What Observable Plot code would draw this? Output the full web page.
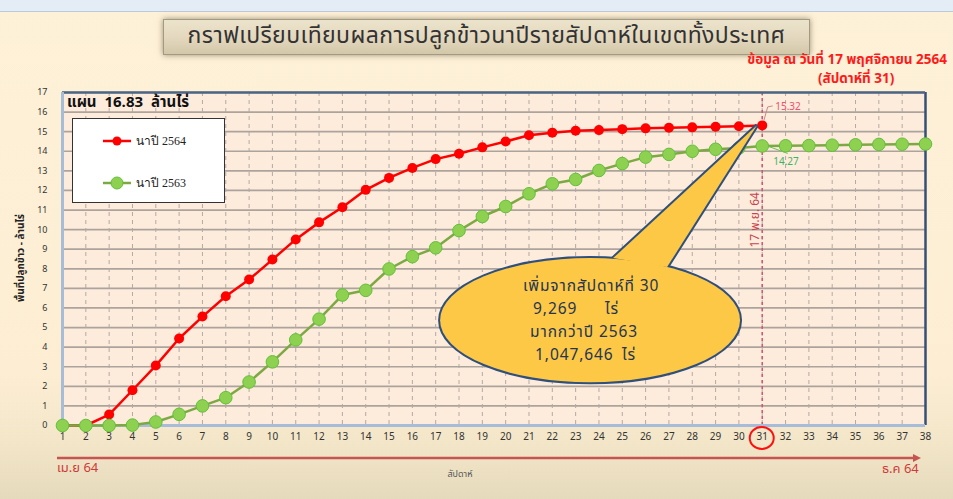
<!DOCTYPE html>
<html><head><meta charset="utf-8">
<script src="https://cdn.jsdelivr.net/npm/d3@7"></script>
<script src="https://cdn.jsdelivr.net/npm/@observablehq/plot@0.6"></script>
<style>
body{margin:0;background:#fdf0d6;}
#wrap{position:relative;width:953px;height:499px;overflow:hidden;
 background:linear-gradient(180deg,#fdf1d8 0%,#fdeed3 75%,#f3e6c9 88%,#e6dabd 100%);
 font-family:"Noto Sans Thai","Noto Sans",Tahoma,sans-serif;}
#topbar{position:absolute;left:0;top:0;width:953px;height:11px;background:#e4ecf6;border-bottom:1px solid #bccbdc;}
#wrap svg{position:absolute;left:0;top:0;}
#title{position:absolute;left:163px;top:19px;width:647px;height:36px;box-sizing:border-box;
 border:1px solid #a39a84;background:linear-gradient(180deg,#ece3cc,#e4d9bf 50%,#d3c7a9);
 box-shadow:0 0 6px rgba(90,80,50,.6);font-size:23px;letter-spacing:0.4px;color:#333;text-align:center;line-height:33px;white-space:nowrap;}
.red{position:absolute;color:#ff1a1a;font-weight:bold;font-size:13.5px;line-height:15px;white-space:nowrap;}
#plan{position:absolute;left:67px;top:93px;font-weight:bold;font-size:15px;line-height:20px;color:#111;white-space:nowrap;word-spacing:4px;}
#legend{position:absolute;left:72px;top:118px;width:153px;height:85px;box-sizing:border-box;background:#fff;border:1.5px solid #333;}
#ytitle{position:absolute;left:21px;top:258px;transform:translate(-50%,-50%) rotate(-90deg);font-size:10px;font-weight:bold;color:#222;white-space:nowrap;}
.bot{position:absolute;color:#d03a3a;font-size:13px;white-space:nowrap;}
#xtitle{position:absolute;left:460px;top:467px;transform:translateX(-50%);font-size:9px;color:#555;}
#wrap svg g[aria-label^="y-axis"] text{font-size:9px;}
</style></head><body>
<div id="wrap"><div id="topbar"></div></div>
<script>
// ---- data ----
const weekTicks = [1,2,3,4,5,6,7,8,9,10,11,12,13,14,15,16,17,18,19,20,21,22,23,24,25,26,27,28,29,30,31,32,33,34,35,36,37,38];
const yTicks = [0,1,2,3,4,5,6,7,8,9,10,11,12,13,14,15,16,17];
const area2564 = [0,0,0.56,1.8,3.06,4.44,5.56,6.6,7.45,8.47,9.5,10.37,11.14,12.03,12.64,13.15,13.6,13.87,14.2,14.5,14.82,14.95,15.05,15.08,15.13,15.17,15.2,15.22,15.25,15.28,15.32];
const area2563 = [0,0,0,0.02,0.18,0.57,1.0,1.42,2.22,3.25,4.37,5.43,6.66,6.9,7.99,8.62,9.07,9.95,10.67,11.18,11.83,12.34,12.56,13.02,13.37,13.7,13.84,14.0,14.1,14.17,14.27,14.28,14.29,14.31,14.33,14.35,14.36,14.37];
const seriesNames = ["นาปี 2564","นาปี 2563"];
const currentWeek = 31;
const currentDateLabel = "17 พ.ย. 64";
const titleText = "กราฟเปรียบเทียบผลการปลูกข้าวนาปีรายสัปดาห์ในเขตทั้งประเทศ";
const asOfText = ["ข้อมูล ณ วันที่ 17 พฤศจิกายน 2564","(สัปดาห์ที่ 31)"];
const planText = "แผน  16.83 ล้านไร่";
const calloutLines = ["เพิ่มจากสัปดาห์ที่ 30","9,269","ไร่","มากกว่าปี 2563","1,047,646","ไร่"];
const yTitle = "พื้นที่ปลูกข้าว - ล้านไร่";
const xTitle = "สัปดาห์";
const periodLabels = ["เม.ย 64","ธ.ค 64"];

const rows2564 = area2564.map((v,i)=>({week:weekTicks[i],value:v}));
const rows2563 = area2563.map((v,i)=>({week:weekTicks[i],value:v}));
const cur64 = rows2564.filter(d=>d.week===currentWeek);
const cur63 = rows2563.filter(d=>d.week===currentWeek);

const RED="#ff0000", GLINE="#7ea843", GDOT="#8ed150", GDOTS="#62c03a";

function callout(index, scales, values, dimensions){
  const x = scales.x, y = scales.y;
  const g = d3.create("svg:g");
  const cx = x(23.64), cy = y(5.35), rx = x(23.64+6.43)-cx, ry = cy - y(5.35+3.17);
  const tip = [x(30.8), y(15.3)], b1 = [x(24.63), y(8.52)], b2 = [x(26.94), y(8.06)];
  const tri = `M${b1}L${tip}L${b2}Z`;
  const stroke="#2f4f7c", fill="#fdc845";
  g.append("path").attr("d",tri).attr("fill","none").attr("stroke",stroke).attr("stroke-width",4).attr("stroke-linejoin","miter");
  g.append("ellipse").attr("cx",cx).attr("cy",cy).attr("rx",rx).attr("ry",ry).attr("fill","none").attr("stroke",stroke).attr("stroke-width",4);
  g.append("path").attr("d",tri).attr("fill",fill);
  g.append("ellipse").attr("cx",cx).attr("cy",cy).attr("rx",rx).attr("ry",ry).attr("fill",fill);
  const t = (s,dx,dy)=>g.append("text").attr("x",cx+dx).attr("y",cy+dy).attr("text-anchor","start").attr("fill","#253553")
     .attr("font-size",15.5).attr("letter-spacing","0.9px").attr("dominant-baseline","middle").text(s);
  t(calloutLines[0],-67,-34);
  t(calloutLines[1],-57,-11);
  t(calloutLines[2],15,-11);
  t(calloutLines[3],-60,12);
  t(calloutLines[4],-55,35);
  t(calloutLines[5],32,35);
  // leader lines for value labels
  const px = x(currentWeek);
  g.append("path").attr("d",`M${px+2},${y(15.32)-4}L${px+6},${y(15.32)-18}L${px+11},${y(15.32)-19}`).attr("fill","none").attr("stroke","#c98a8a").attr("stroke-width",1);
  g.append("path").attr("d",`M${px+7},${y(14.27)+1}L${px+26},${y(14.27)+8}`).attr("fill","none").attr("stroke","#6cbf5a").attr("stroke-width",1);
  // circle around current week tick
  g.append("ellipse").attr("cx",px).attr("cy",y(0)+13).attr("rx",12).attr("ry",11).attr("fill","none").attr("stroke","#ff1010").attr("stroke-width",2);
  // period arrow
  const ay = y(0)+33;
  g.append("line").attr("x1",x(1)-5).attr("x2",x(38)-8).attr("y1",ay).attr("y2",ay).attr("stroke","#c65450").attr("stroke-width",2.5);
  g.append("path").attr("d",`M${x(38)-4},${ay}L${x(38)-12},${ay-4}L${x(38)-12},${ay+4}Z`).attr("fill","#c65450");
  return g.node();
}

const plot = Plot.plot({
  width:953, height:499,
  marginLeft:62, marginRight:28, marginTop:92, marginBottom:74,
  style:{background:"transparent", fontFamily:"'Noto Sans Thai','Noto Sans',sans-serif", fontSize:"10px", color:"#333", overflow:"visible"},
  x:{domain:[1,38], ticks:weekTicks, tickSize:0, tickPadding:7, label:null, tickFormat:d=>String(d)},
  y:{domain:[0,17], ticks:yTicks, tickSize:0, tickPadding:15, label:null, tickFormat:d=>String(d)},
  marks:[
    Plot.frame({fill:"#fdebdc"}),
    Plot.ruleY(yTicks,{stroke:"#aca39c", strokeWidth:1.7}),
    Plot.ruleX(weekTicks,{stroke:"#b2aaa4", strokeDasharray:"4,4", strokeWidth:1}),
    Plot.ruleX([currentWeek],{stroke:"#d35470", strokeDasharray:"3,3", strokeWidth:1.5}),
    Plot.ruleX([38],{stroke:"#34507a", strokeWidth:2.5}),
    Plot.ruleY([17],{stroke:"#4d6585", strokeWidth:2.5}),
    Plot.ruleX([1],{stroke:"#a6bcd8", strokeWidth:3}),
    Plot.ruleY([0],{stroke:"#a6bcd8", strokeWidth:3}),
    Plot.line(rows2564,{x:"week", y:"value", stroke:RED, strokeWidth:2.5}),
    Plot.dot(rows2564,{x:"week", y:"value", r:5, fill:RED}),
    Plot.line(rows2563,{x:"week", y:"value", stroke:GLINE, strokeWidth:2.5}),
    Plot.dot(rows2563,{x:"week", y:"value", r:6.3, fill:GDOT, stroke:GDOTS, strokeWidth:1}),
    callout,
    Plot.text(cur64,{x:"week", y:"value", text:d=>d.value.toFixed(2), dx:13, dy:-19, textAnchor:"start", fill:"#f0506a", fontSize:10}),
    Plot.text(cur63,{x:"week", y:"value", text:d=>d.value.toFixed(2), dx:11, dy:16, textAnchor:"start", fill:"#3cb464", fontSize:10}),
    Plot.text(cur64,{x:"week", y:()=>10.5, text:()=>currentDateLabel, rotate:-90, dx:-7, fill:"#c8434f", fontSize:12})
  ]
});
const wrap = document.getElementById("wrap");
wrap.appendChild(plot);

function div(id, cls, html, style){ const e=document.createElement("div"); if(id) e.id=id; if(cls) e.className=cls; e.innerHTML=html; if(style) e.setAttribute("style",style); wrap.appendChild(e); return e; }
div("title",null,titleText);
div(null,"red",asOfText[0],"right:6px;top:53px;");
div(null,"red",asOfText[1],"left:818px;top:72px;");
div("plan",null,planText);
div("ytitle",null,yTitle);
div(null,"bot",periodLabels[0],"left:57px;top:458px;");
div(null,"bot",periodLabels[1],"left:882px;top:459px;");
div("xtitle",null,xTitle);
div("legend",null,`<svg width="150" height="82" style="position:static">
 <line x1="30" x2="58" y1="22" y2="22" stroke="${RED}" stroke-width="2.5"/><circle cx="44" cy="22" r="4.5" fill="${RED}"/>
 <text x="63" y="26" font-family="'Liberation Serif',serif" font-size="12" fill="#222">${seriesNames[0]}</text>
 <line x1="30" x2="58" y1="64" y2="64" stroke="${GLINE}" stroke-width="2.5"/><circle cx="44" cy="64" r="6" fill="${GDOT}" stroke="${GDOTS}"/>
 <text x="63" y="68" font-family="'Liberation Serif',serif" font-size="12" fill="#222">${seriesNames[1]}</text>
</svg>`);
</script>
</body></html>
